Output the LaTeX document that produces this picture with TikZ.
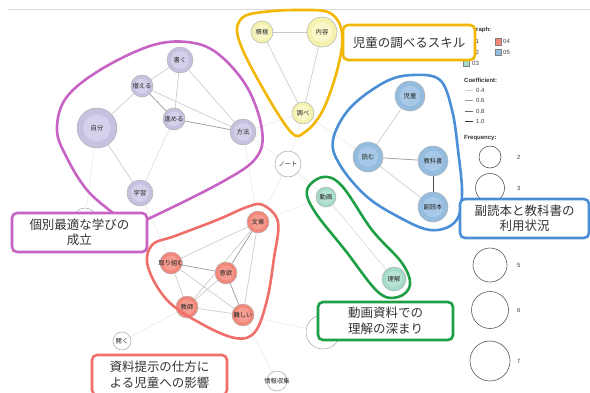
\documentclass[tikz,border=0pt]{standalone}
\usepackage{fontspec}
\setmainfont{Liberation Sans}
\newfontfamily\cjk{Noto Sans CJK JP}
\usetikzlibrary{backgrounds}
\definecolor{pOut}{HTML}{C6C1DF}\definecolor{pIn}{HTML}{D5D1EB}
\definecolor{yOut}{HTML}{F5F2AE}\definecolor{yIn}{HTML}{FAF8C9}
\definecolor{bOut}{HTML}{94BCDF}\definecolor{bIn}{HTML}{A7C9E7}
\definecolor{rOut}{HTML}{F3877A}\definecolor{rIn}{HTML}{F69B8F}
\definecolor{gOut}{HTML}{A4DAC9}\definecolor{gIn}{HTML}{B7E3D5}
\definecolor{cP}{HTML}{C863C6}
\definecolor{cY}{HTML}{F2B705}
\definecolor{cB}{HTML}{4A8FD6}
\definecolor{cG}{HTML}{1E9E45}
\definecolor{cR}{HTML}{EF6F6A}
\newcommand{\nl}[1]{\makebox[0pt][c]{#1}}
\tikzset{
  nd/.style n args={3}{circle, inner sep=0pt, minimum size=#1, fill=#2, draw=black!30, line width=0.5pt,
    font=\cjk\fontsize{6.3}{7}\selectfont, text=black!85,
    path picture={\fill[#3] (path picture bounding box.center) circle[radius=0.34*#1];}},
  pn/.style={nd={#1}{pOut}{pIn}},
  yn/.style={nd={#1}{yOut}{yIn}},
  bn/.style={nd={#1}{bOut}{bIn}},
  rn/.style={nd={#1}{rOut}{rIn}},
  gn/.style={nd={#1}{gOut}{gIn}},
  wn/.style={circle, inner sep=0pt, minimum size=#1, fill=white, draw=black!35, line width=0.5pt,
    font=\cjk\fontsize{6.3}{7}\selectfont, text=black!85},
  ed/.style={draw=black!22, line width=0.6pt},
  edd/.style={draw=black!38, line width=0.75pt},
  edk/.style={draw=black!70, line width=1pt},
  fe/.style={draw=black!8, line width=0.6pt},
  hull/.style={line width=2.6pt},
  lbox/.style={draw=#1, line width=2.6pt, rounded corners=5pt, fill=white, align=center,
    font=\cjk\fontsize{12.5}{15.5}\selectfont, text=black!80, inner sep=0pt},
  lgt/.style={anchor=west, font=\fontsize{6}{7}\selectfont, text=black!75, inner sep=0pt},
  lgb/.style={anchor=west, font=\bfseries\fontsize{6}{7}\selectfont, text=black!80, inner sep=0pt},
  sq/.style={draw=black!50, line width=0.4pt, minimum size=6.5pt, inner sep=0pt},
  fc/.style={circle, draw=black!65, line width=0.6pt, minimum size=#1, inner sep=0pt}
}
\begin{document}
\begin{tikzpicture}[x=1pt,y=-1pt]
\useasboundingbox (0,0) rectangle (590,392);
\begin{scope}[on background layer]
\fill[white] (0,0) rectangle (590,392);
\draw[black!15, line width=0.6pt] (8,9) -- (590,9);
\end{scope}

% ---------- nodes ----------
% purple
\node[pn=26pt] (kaku) at (180,60) {\nl{書く}};
\node[pn=22pt] (fueru) at (142,86) {\nl{増える}};
\node[pn=22pt] (susu) at (174,119) {\nl{進める}};
\node[pn=40pt] (jibun) at (97,128) {\nl{自分}};
\node[pn=26pt] (houhou) at (243,132) {\nl{方法}};
\node[pn=26pt] (gaku) at (140,193) {\nl{学習}};
% yellow
\node[yn=22pt] (sekk) at (262,32) {\nl{積極}};
\node[yn=30pt] (naiyo) at (322,32) {\nl{内容}};
\node[yn=22pt] (shira) at (303,113) {\nl{調べ}};
% blue
\node[bn=30pt] (jido) at (410,96) {\nl{児童}};
\node[bn=30pt] (yomu) at (368,157) {\nl{読む}};
\node[bn=30pt] (kyoka) at (433,161) {\nl{教科書}};
\node[bn=30pt] (fuku) at (433,207) {\nl{副読本}};
% green
\node[gn=20pt] (douga) at (326,197) {\nl{動画}};
\node[gn=24pt] (rikai) at (394,279) {\nl{理解}};
% red
\node[rn=22pt] (bunsho) at (258,222) {\nl{文章}};
\node[rn=22pt] (tori) at (171,263) {\nl{取り組む}};
\node[rn=22pt] (iyoku) at (226,273) {\nl{意欲}};
\node[rn=22pt] (kyoshi) at (187,307) {\nl{教師}};
\node[rn=22pt] (muzu) at (243,315) {\nl{難しい}};
% white
\node[wn=26pt] (note) at (288,164) {\nl{ノート}};
\node[wn=18pt] (hiraku) at (122,341) {\nl{開く}};
\node[wn=20pt] (joho) at (277,381) {\nl{情報収集}};
\node[wn=34pt] (bigw) at (323,332) {};
\node[wn=22pt] (hidw) at (85,219) {};

% ---------- edges ----------
\begin{scope}[on background layer]
\draw[fe] (kyoshi) -- (hiraku);
\draw[fe] (muzu) -- (joho);
\draw[fe] (muzu) -- (bigw);
\draw[fe] (jibun) -- (hidw);
\draw[fe] (note) -- (houhou);
\draw[fe] (note) -- (shira);
\draw[fe] (note) -- (bunsho);
\draw[fe] (note) -- (douga);
\draw[fe] (houhou) -- (shira);
\draw[fe] (shira) -- (yomu);
\draw[fe] (gaku) -- (tori);
\draw[fe] (bunsho) -- (douga);
\draw[fe] (houhou) -- (bunsho);
% purple
\draw[ed] (kaku) -- (fueru);
\draw[ed] (kaku) -- (susu);
\draw[ed] (kaku) -- (houhou);
\draw[ed] (fueru) -- (jibun);
\draw[edd] (fueru) -- (susu);
\draw[ed] (fueru) -- (houhou);
\draw[edd] (susu) -- (houhou);
\draw[ed] (jibun) -- (gaku);
\draw[draw=black!13, line width=0.6pt] (susu) -- (gaku);
% yellow
\draw[ed] (sekk) -- (naiyo);
\draw[ed] (sekk) -- (shira);
\draw[ed] (naiyo) -- (shira);
% blue
\draw[ed] (jido) -- (yomu);
\draw[edd] (yomu) -- (kyoka);
\draw[ed] (yomu) -- (fuku);
\draw[edk] (kyoka) -- (fuku);
% green
\draw[draw=black!15, line width=0.6pt] (douga) -- (rikai);
% red
\draw[ed] (bunsho) -- (tori);
\draw[edd] (bunsho) -- (iyoku);
\draw[ed] (bunsho) -- (kyoshi);
\draw[ed] (bunsho) -- (muzu);
\draw[edd] (tori) -- (iyoku);
\draw[ed] (tori) -- (kyoshi);
\draw[ed] (tori) -- (muzu);
\draw[ed] (iyoku) -- (kyoshi);
\draw[edd] (iyoku) -- (muzu);
\draw[ed] (kyoshi) -- (muzu);
\end{scope}

% ---------- hulls ----------
\draw[hull, cP] plot[smooth cycle, tension=0.6] coordinates {(113,213) (87,190) (67,158) (57,130) (66,98) (100,70) (150,46) (187,42) (217,53) (247,87) (262,130) (256,158) (222,182) (150,218) (130,225)};
\draw[hull, cY] plot[smooth cycle, tension=0.6] coordinates {(263,12) (300,10) (330,13) (342,33) (338,67) (323,110) (305,132) (290,131) (257,78) (238,37) (242,18)};
\draw[hull, cB] plot[smooth cycle, tension=0.6] coordinates {(413,75) (440,80) (452,110) (458,150) (462,195) (455,222) (430,230) (395,215) (365,195) (340,165) (333,140) (350,108) (385,82)};
\draw[hull, cG] plot[smooth cycle, tension=0.6] coordinates {(323,177) (342,186) (372,230) (402,263) (410,285) (398,297) (378,292) (345,250) (315,212) (307,190)};
\draw[hull, cR] plot[smooth cycle, tension=0.6] coordinates {(263,205) (278,222) (274,258) (267,300) (255,332) (235,338) (200,323) (167,300) (148,267) (152,245) (175,236) (217,220) (247,207)};

% ---------- legend ----------
\node[lgb] (lsub) at (461,30) {Subgraph:};
\node[sq, fill=pOut] (s1) at (466,41.5) {};
\node[lgt] (t1) at (472,41.5) {01};
\node[sq, fill=rOut] (s4) at (498,41.5) {};
\node[lgt] (t4) at (503,41.5) {04};
\node[sq, fill=yOut] (s2) at (466,52) {};
\node[lgt] (t2) at (472,52) {02};
\node[sq, fill=bOut] (s5) at (498,52) {};
\node[lgt] (t5) at (503,52) {05};
\node[sq, fill=gOut] (s3) at (466,63) {};
\node[lgt] (t3) at (472,63) {03};
\node[lgb] (lcoef) at (464,80) {Coefficient:};
\draw[black!20, line width=0.6pt] (465,90) -- (473,90);
\node[lgt] (c1) at (476,90) {0.4};
\draw[black!40, line width=0.7pt] (465,100.5) -- (473,100.5);
\node[lgt] (c2) at (476,100.5) {0.6};
\draw[black!60, line width=0.8pt] (465,111) -- (473,111);
\node[lgt] (c3) at (476,111) {0.8};
\draw[black!80, line width=0.9pt] (465,121) -- (473,121);
\node[lgt] (c4) at (476,121) {1.0};
\node[lgb] (lfreq) at (464,138) {Frequency:};
\node[fc=22pt] (f2) at (490,157) {};
\node[lgt] (g2) at (517,157) {2};
\node[fc=29pt] (f3) at (490,188) {};
\node[lgt] (g3) at (517,188) {3};
\node[fc=34pt] (f5) at (490,265) {};
\node[lgt] (g5) at (517,265) {5};
\node[fc=37pt] (f6) at (490,310) {};
\node[lgt] (g6) at (517,310) {6};
\node[fc=40pt] (f7) at (490,361) {};
\node[lgt] (g7) at (517,361) {7};

% ---------- label boxes ----------
\node[lbox=cP, minimum width=135pt, minimum height=39pt] (bxP) at (79.5,232.5) {個別最適な学びの\\成立};
\node[lbox=cY, minimum width=132pt, minimum height=35pt] (bxY) at (409,42.5) {児童の調べるスキル};
\node[lbox=cB, minimum width=129pt, minimum height=39pt] (bxB) at (524.5,218.5) {副読本と教科書の\\利用状況};
\node[lbox=cG, minimum width=135pt, minimum height=38pt] (bxG) at (385.5,321) {動画資料での\\理解の深まり};
\node[lbox=cR, minimum width=135pt, minimum height=40pt] (bxR) at (159.5,375) {資料提示の仕方に\\よる児童への影響};
\end{tikzpicture}
\end{document}
